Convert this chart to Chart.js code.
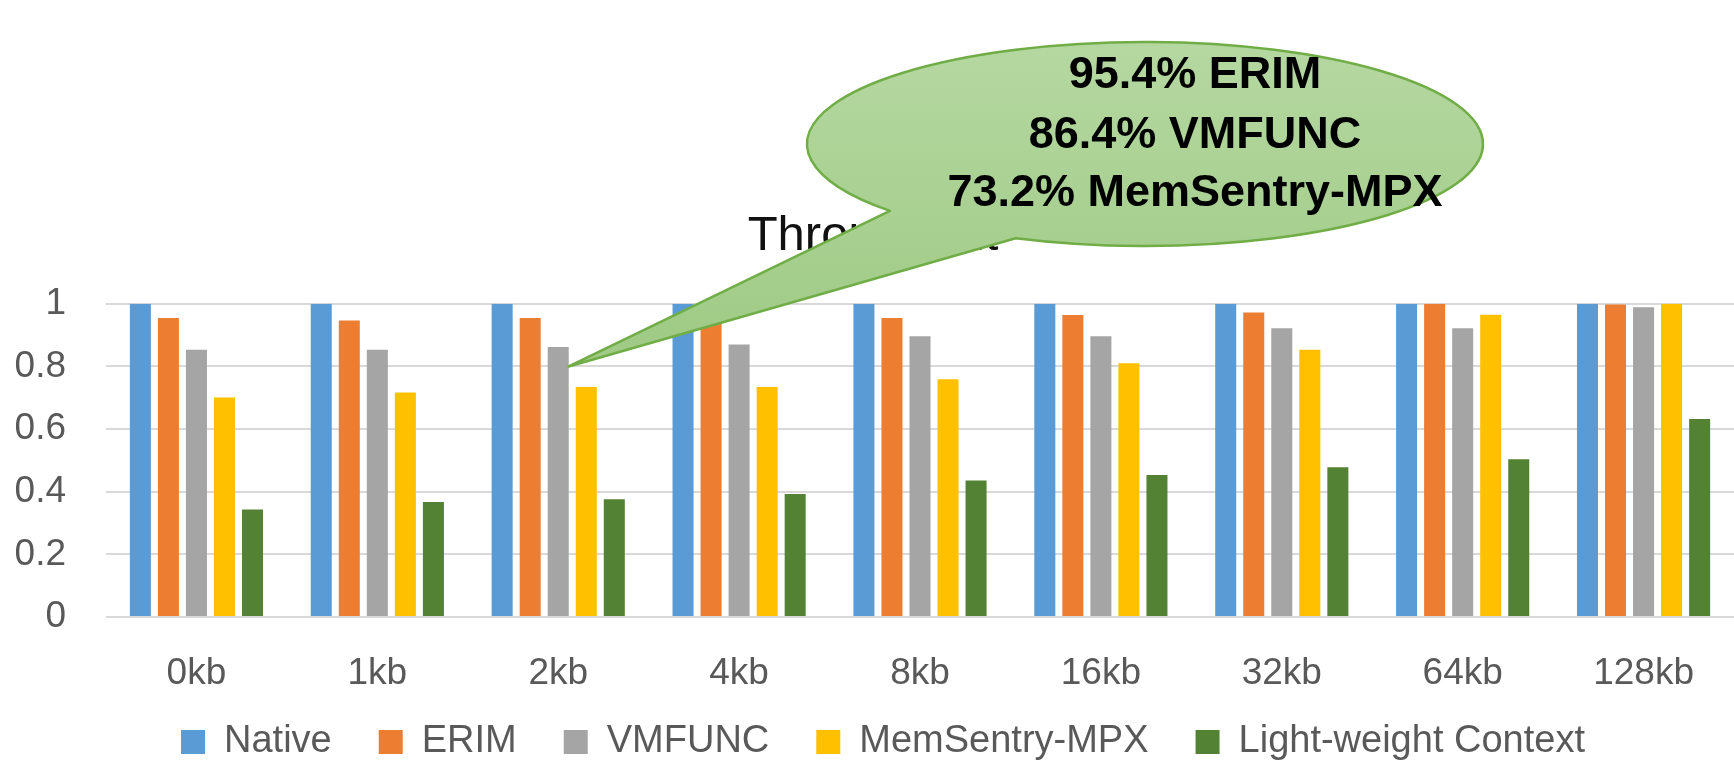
<!DOCTYPE html>
<html>
<head>
<meta charset="utf-8">
<script src="https://cdn.jsdelivr.net/npm/chart.js@4"></script>
<style>
  html, body { margin: 0; padding: 0; background: #fff; }
  #wrap { width: 1734px; height: 765px; }
</style>
</head>
<body>
<div id="wrap"><canvas id="c" width="1734" height="765"></canvas></div>
<script>
// ---- data ----
const categories = ['0kb', '1kb', '2kb', '4kb', '8kb', '16kb', '32kb', '64kb', '128kb'];
const seriesNames = ['Native', 'ERIM', 'VMFUNC', 'MemSentry-MPX', 'Light-weight Context'];
const nativeVals = [1, 1, 1, 1, 1, 1, 1, 1, 1];
const erimVals   = [0.955, 0.947, 0.955, 0.955, 0.955, 0.964, 0.972, 1.0, 0.998];
const vmfuncVals = [0.853, 0.853, 0.862, 0.870, 0.896, 0.896, 0.922, 0.922, 0.989];
const mpxVals    = [0.701, 0.717, 0.734, 0.734, 0.759, 0.810, 0.853, 0.965, 1.0];
const lwcVals    = [0.343, 0.367, 0.376, 0.393, 0.436, 0.453, 0.478, 0.504, 0.632];
const yTicks = [0, 0.2, 0.4, 0.6, 0.8, 1];
const chartTitle = 'Throughput';
const calloutLines = ['95.4% ERIM', '86.4% VMFUNC', '73.2% MemSentry-MPX'];
const calloutTarget = { series: 2, index: 2, value: 0.8 };

const colors = ['#5B9BD5', '#ED7D31', '#A5A5A5', '#FFC000', '#548235'];
const FONT = "'Liberation Sans', Arial, sans-serif";

const allVals = [nativeVals, erimVals, vmfuncVals, mpxVals, lwcVals];
const datasets = seriesNames.map((name, i) => ({
  label: name,
  data: allVals[i],
  backgroundColor: colors[i],
  borderWidth: 0,
  categoryPercentage: 0.775,
  barPercentage: 0.75
}));

// small nudges of the legend / title boxes after Chart.js layout
const nudgePlugin = {
  id: 'nudge',
  afterLayout(chart) {
    const lg = chart.legend;
    if (lg) { lg.top -= 18; lg.bottom -= 18; lg.left += 16; lg.right += 16; }
    const tb = chart.titleBlock;
    if (tb) { tb.left += 6; tb.right += 6; }
  }
};

const calloutPlugin = {
  id: 'callout',
  afterDraw(chart) {
    const ctx = chart.ctx;
    const meta = chart.getDatasetMeta(calloutTarget.series);
    const bar = meta.data[calloutTarget.index];
    const tipX = bar.x + bar.width / 2;
    const tipY = chart.scales.y.getPixelForValue(calloutTarget.value);
    const cx = 1145, cy = 144, rx = 338, ry = 102;
    const a1 = 112.5 * Math.PI / 180, a2 = 139 * Math.PI / 180;
    ctx.save();
    ctx.beginPath();
    ctx.ellipse(cx, cy, rx, ry, 0, a1, a2, true);
    ctx.lineTo(tipX, tipY);
    ctx.closePath();
    const g = ctx.createLinearGradient(0, cy - ry, 0, tipY);
    g.addColorStop(0, '#B5D8A1');
    g.addColorStop(1, '#9ECA84');
    ctx.fillStyle = g;
    ctx.fill();
    ctx.lineWidth = 2.5;
    ctx.strokeStyle = '#70AD47';
    ctx.lineJoin = 'round';
    ctx.stroke();
    ctx.fillStyle = '#000';
    ctx.font = "bold 45px " + FONT;
    ctx.textAlign = 'center';
    ctx.textBaseline = 'alphabetic';
    const baseY = [88, 148, 206];
    calloutLines.forEach((t, i) => ctx.fillText(t, 1195, baseY[i]));
    ctx.restore();
  }
};

new Chart(document.getElementById('c'), {
  type: 'bar',
  data: { labels: categories, datasets },
  plugins: [nudgePlugin, calloutPlugin],
  options: {
    responsive: false,
    devicePixelRatio: 1,
    animation: false,
    layout: { padding: { left: 0, right: 0, top: 0, bottom: -24 } },
    plugins: {
      title: {
        display: true,
        text: chartTitle,
        color: '#111',
        font: { family: FONT, size: 49, weight: 'normal' },
        padding: { top: 207, bottom: 38 }
      },
      legend: {
        position: 'bottom',
        labels: {
          color: '#595959',
          font: { family: FONT, size: 38 },
          boxWidth: 24,
          boxHeight: 24,
          padding: 47
        }
      },
      tooltip: { enabled: false }
    },
    scales: {
      x: {
        grid: { display: false, drawTicks: false },
        border: { display: false },
        ticks: { color: '#595959', font: { family: FONT, size: 37, lineHeight: 1.0 }, padding: 38, maxRotation: 0 },
        afterFit(s) { s.height = 77; }
      },
      y: {
        min: 0, max: 1,
        afterBuildTicks(s) { s.ticks = yTicks.map(v => ({ value: v })); },
        grid: { color: '#D9D9D9', lineWidth: 2, drawTicks: false },
        border: { display: false },
        ticks: {
          color: '#595959', font: { family: FONT, size: 37 }, padding: 40,
          callback: v => String(+v.toFixed(1))
        },
        afterFit(s) { s.width = 106; }
      }
    }
  }
});
</script>
</body>
</html>
